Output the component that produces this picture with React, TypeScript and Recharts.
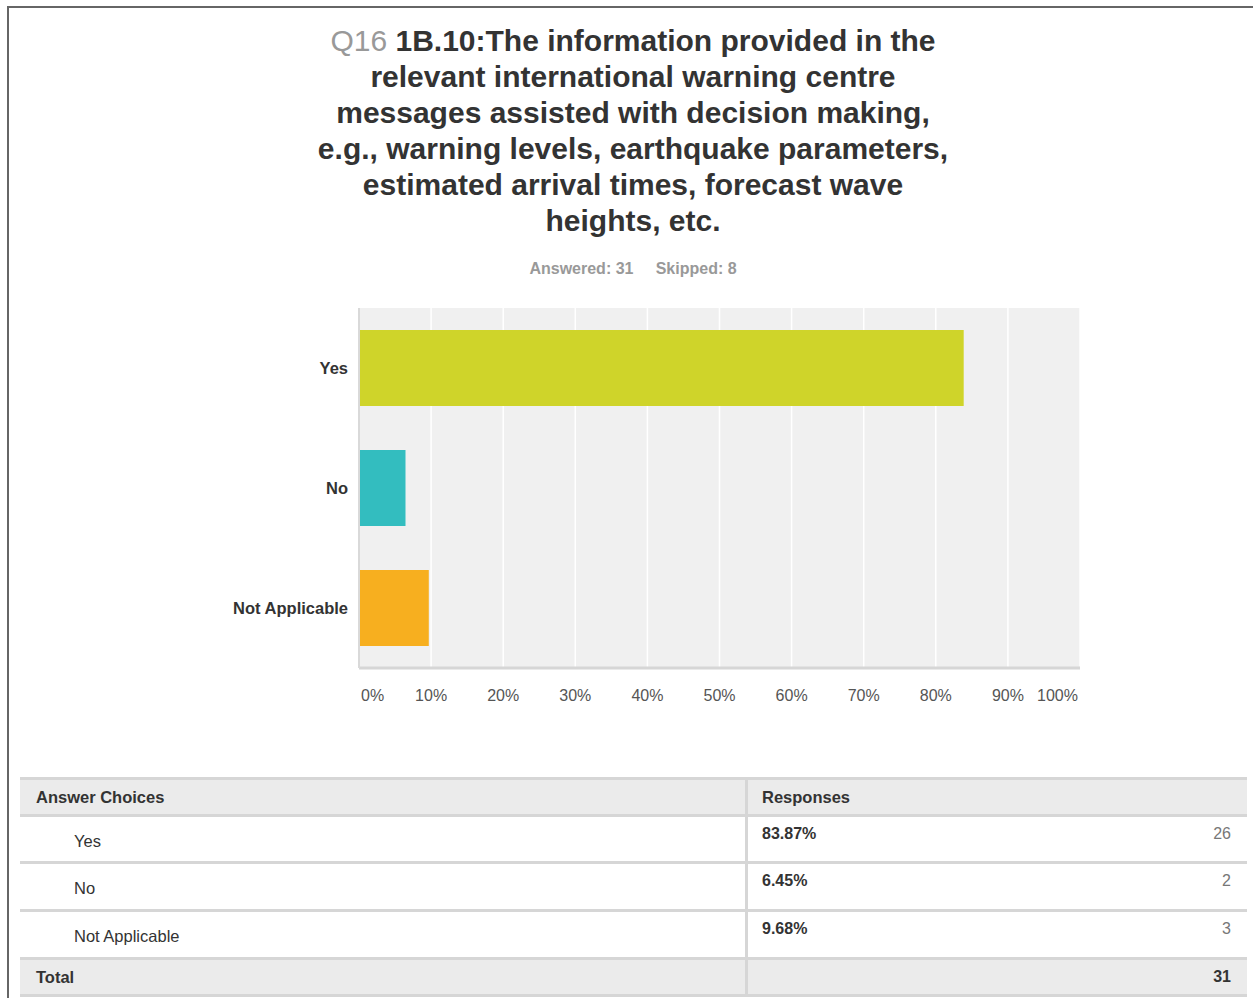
import { BarChart, Bar, Cell, CartesianGrid, XAxis, YAxis } from "recharts";

const choices = ["Yes", "No", "Not Applicable"];
const percents = [83.87, 6.45, 9.68];
const counts = [26, 2, 3];
const barColors = ["#cfd42a", "#33bdbf", "#f7af1f"];
const xTicks = [0, 10, 20, 30, 40, 50, 60, 70, 80, 90, 100];
const titleLines = [
  "relevant international warning centre",
  "messages assisted with decision making,",
  "e.g., warning levels, earthquake parameters,",
  "estimated arrival times, forecast wave",
  "heights, etc.",
];
const answered = 31;
const skipped = 8;

const font = "'Liberation Sans', Arial, sans-serif";

const data = choices.map((name, i) => ({ name, value: percents[i] }));

function XTick({ x, y, payload }: any) {
  const v = payload.value;
  const anchor = v === 0 ? "start" : v === 100 ? "end" : "middle";
  const dx = v === 0 ? 2 : v === 100 ? -2 : 0;
  return (
    <text x={x + dx} y={y} dy="0.71em" textAnchor={anchor} fontSize={16} fill="#555" fontFamily={font}>
      {v}%
    </text>
  );
}

const sep = "#d6d6d6";

function Table() {
  const rowH = [37, 47, 48, 48, 37];
  const top = 777;
  let y = top;
  const rows: any[] = [];
  const labels = ["Answer Choices", ...choices, "Total"];
  const total = counts.reduce((a, b) => a + b, 0);
  labels.forEach((label, i) => {
    const h = rowH[i];
    const shaded = i === 0 || i === labels.length - 1;
    const bold = shaded;
    const body = i > 0 && i < labels.length - 1;
    rows.push(
      <div key={label} style={{ position: "absolute", left: 20, top: y, width: 1227, height: h, background: shaded ? "#ebebeb" : "#fff", borderTop: `3px solid ${sep}`, boxSizing: "border-box" }}>
        <div style={{ position: "absolute", left: 725, top: 0, width: 3, height: "100%", background: sep }} />
        <div style={{ position: "absolute", left: body ? 54 : 16, top: body ? 15 : 8, fontSize: 16.5, fontWeight: bold ? 700 : 400, color: "#333" }}>{label}</div>
        {i === 0 && <div style={{ position: "absolute", left: 742, top: 8, fontSize: 16.5, fontWeight: 700, color: "#333" }}>Responses</div>}
        {body && <div style={{ position: "absolute", left: 742, top: 8, fontSize: 16, fontWeight: 700, color: "#333" }}>{percents[i - 1].toFixed(2)}%</div>}
        {body && <div style={{ position: "absolute", right: 16, top: 8, fontSize: 16, color: "#777" }}>{counts[i - 1]}</div>}
        {i === labels.length - 1 && <div style={{ position: "absolute", right: 16, top: 8, fontSize: 16, fontWeight: 700, color: "#333" }}>{total}</div>}
      </div>
    );
    y += h;
  });
  rows.push(<div key="bottom" style={{ position: "absolute", left: 20, top: y, width: 1227, height: 3, background: sep }} />);
  return <>{rows}</>;
}

export default function App() {
  return (
    <div style={{ position: "absolute", left: 0, top: 0, width: 1253, height: 998, background: "#fff", fontFamily: font, overflow: "hidden" }}>
      <div style={{ position: "absolute", left: 7, top: 6, width: 1246, height: 2, background: "#666" }} />
      <div style={{ position: "absolute", left: 7, top: 6, width: 2, height: 992, background: "#666" }} />
      <div style={{ position: "absolute", left: 0, top: 23, width: 1266, textAlign: "center", fontSize: 30, fontWeight: 700, color: "#333", lineHeight: "36px" }}>
        <div>
          <span style={{ color: "#999", fontWeight: 400 }}>Q16</span> 1B.10:The information provided in the
        </div>
        {titleLines.map((l) => (
          <div key={l}>{l}</div>
        ))}
      </div>
      <div style={{ position: "absolute", left: 0, top: 260, width: 1266, textAlign: "center", fontSize: 16, fontWeight: 700, color: "#999" }}>
        Answered: {answered}&nbsp;&nbsp;&nbsp;&nbsp;&nbsp;Skipped: {skipped}
      </div>
      <div style={{ position: "absolute", left: 0, top: 0 }}>
        <BarChart width={1253} height={730} data={data} layout="vertical" margin={{ top: 308, right: 173, bottom: 12, left: 0 }}>
          <CartesianGrid horizontal={false} vertical stroke="#fff" strokeWidth={1.5} fill="#f0f0f0" />
          <XAxis type="number" domain={[0, 100]} ticks={xTicks} interval={0} tick={<XTick />} tickLine={false} axisLine={{ stroke: "#d6d6d6", strokeWidth: 3 }} tickMargin={16} height={50} />
          <YAxis type="category" dataKey="name" width={359} tickLine={false} tickMargin={5} axisLine={{ stroke: "#d9d9d9", strokeWidth: 2 }} tick={{ fontSize: 16.5, fontWeight: 700, fill: "#333", fontFamily: font }} />
          <Bar dataKey="value" barSize={76} isAnimationActive={false}>
            {data.map((d, i) => (
              <Cell key={d.name} fill={barColors[i]} />
            ))}
          </Bar>
        </BarChart>
      </div>
      <Table />
    </div>
  );
}
